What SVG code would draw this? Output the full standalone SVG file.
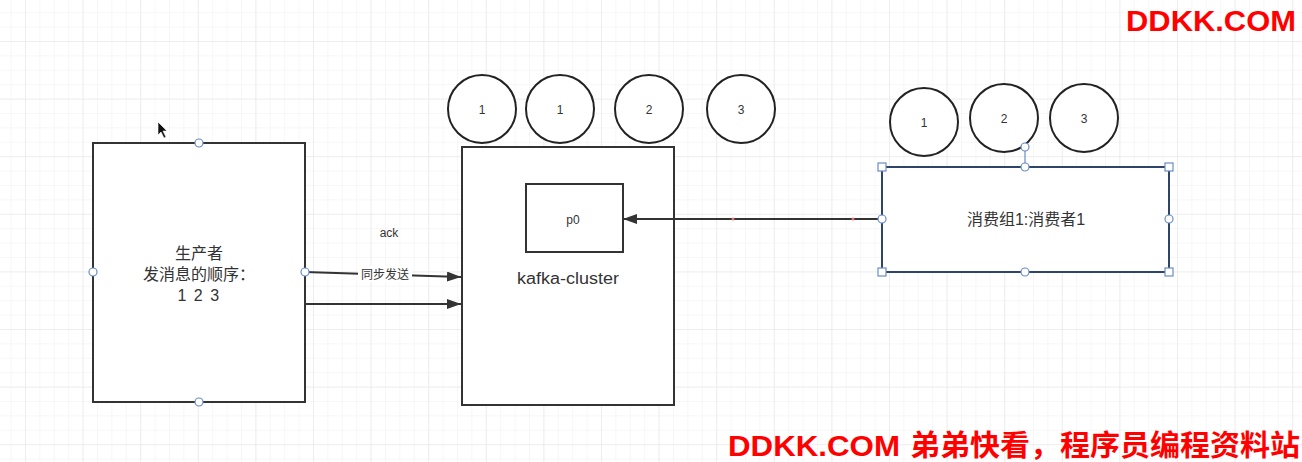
<svg xmlns="http://www.w3.org/2000/svg" width="1302" height="462" viewBox="0 0 1302 462">
  <defs>
    <pattern id="minor" x="25" y="41" width="14.4" height="14.4" patternUnits="userSpaceOnUse">
      <path d="M0 0H14.4M0 0V14.4" fill="none" stroke="#f0f0f0" stroke-width="1"/>
    </pattern>
    <pattern id="major" x="25" y="41" width="57.6" height="57.6" patternUnits="userSpaceOnUse">
      <path d="M0 0H57.6M0 0V57.6" fill="none" stroke="#e6e6e6" stroke-width="1.2"/>
    </pattern>
    <marker id="arr" viewBox="0 0 14 10" refX="14" refY="5" markerWidth="14" markerHeight="10" markerUnits="userSpaceOnUse" orient="auto">
      <path d="M0 0L14 5L0 10Z" fill="#333"/>
    </marker>
  </defs>
  <style>
    .box{fill:#fff;stroke:#333;stroke-width:2}
    .sel{fill:#fff;stroke:#2e4468;stroke-width:2}
    .circ{fill:#fff;stroke:#222;stroke-width:2}
    .h{fill:#fff;stroke:#6a8cc6;stroke-width:1.2}
    .t{font-family:"Liberation Sans","Noto Sans CJK SC",sans-serif;fill:#333;text-anchor:middle;dominant-baseline:central}
    .edge{fill:none;stroke:#333;stroke-width:2}
    .wm{font-family:"Liberation Sans","Noto Sans CJK SC",sans-serif;font-weight:bold;fill:#ff0000;font-size:29px}
  </style>
  <rect width="1302" height="462" fill="#fff"/>
  <rect width="1302" height="462" fill="url(#minor)"/>
  <rect width="1302" height="462" fill="url(#major)"/>

  <g id="producer">
    <rect class="box" x="93" y="143" width="212" height="259"/>
    <text class="t" x="199" y="253" font-size="16">生产者</text>
    <text class="t" x="199" y="274" font-size="16">发消息的顺序：</text>
    <text class="t" x="199" y="295" font-size="16" letter-spacing="1.5">1 2 3</text>
    <circle class="h" cx="199" cy="143" r="4"/>
    <circle class="h" cx="199" cy="402" r="4"/>
    <circle class="h" cx="93" cy="272" r="4"/>
  </g>

  <g id="kafka-cluster">
    <rect class="box" x="462" y="147" width="212" height="258"/>
    <text class="t" x="568" y="278" font-size="16" textLength="102" lengthAdjust="spacingAndGlyphs">kafka-cluster</text>
  </g>

  <g id="p0">
    <rect class="box" x="526" y="184" width="97" height="68"/>
    <text class="t" x="573" y="220" font-size="12">p0</text>
  </g>

  <g id="msg-circles-top">
    <ellipse class="circ" cx="482" cy="109" rx="34" ry="34"/>
    <text class="t" x="482" y="110" font-size="12">1</text>
    <ellipse class="circ" cx="560" cy="109" rx="34" ry="34"/>
    <text class="t" x="560" y="110" font-size="12">1</text>
    <ellipse class="circ" cx="649" cy="109" rx="34" ry="34"/>
    <text class="t" x="649" y="110" font-size="12">2</text>
    <ellipse class="circ" cx="741" cy="109" rx="34" ry="34"/>
    <text class="t" x="741" y="110" font-size="12">3</text>
  </g>

  <g id="msg-circles-consumer">
    <ellipse class="circ" cx="924" cy="122" rx="34" ry="34"/>
    <text class="t" x="924" y="123" font-size="12">1</text>
    <ellipse class="circ" cx="1004" cy="118" rx="34" ry="34"/>
    <text class="t" x="1004" y="119" font-size="12">2</text>
    <ellipse class="circ" cx="1084" cy="118" rx="34" ry="34"/>
    <text class="t" x="1084" y="119" font-size="12">3</text>
  </g>

  <g id="connectors">
    <line class="edge" x1="305" y1="272" x2="461" y2="277" marker-end="url(#arr)"/>
    <rect x="358" y="266" width="54" height="16" fill="#fff"/>
    <text class="t" x="385" y="275" font-size="12">同步发送</text>
    <line class="edge" x1="305" y1="304" x2="461" y2="304" marker-end="url(#arr)"/>
    <text class="t" x="389" y="233" font-size="12">ack</text>
    <line class="edge" x1="882" y1="219" x2="623" y2="219" marker-end="url(#arr)"/>
    <circle cx="733" cy="219" r="1.5" fill="#e57373"/>
    <circle cx="853" cy="219" r="1.5" fill="#e57373"/>
    <circle class="h" cx="305" cy="272" r="4"/>
  </g>

  <g id="consumer">
    <rect class="sel" x="882" y="167" width="287" height="105"/>
    <text class="t" x="1026" y="219" font-size="16">消费组1:消费者1</text>
    <line x1="1025" y1="147" x2="1025" y2="167" stroke="#6a8cc6" stroke-width="1.2"/>
    <circle class="h" cx="1025" cy="147" r="4"/>
    <circle class="h" cx="1025" cy="167" r="4"/>
    <circle class="h" cx="1025" cy="272" r="4"/>
    <circle class="h" cx="882" cy="219" r="4"/>
    <circle class="h" cx="1169" cy="219" r="4"/>
    <rect class="h" x="878" y="163" width="8" height="8"/>
    <rect class="h" x="1165" y="163" width="8" height="8"/>
    <rect class="h" x="878" y="268" width="8" height="8"/>
    <rect class="h" x="1165" y="268" width="8" height="8"/>
  </g>

  <path d="M158 122L158 135L161 132L164 138L166 137L163 131L167 131Z" fill="#111" stroke="#fff" stroke-width="0.6"/>

  <text class="wm" x="1126" y="31" textLength="170" lengthAdjust="spacingAndGlyphs">DDKK.COM</text>
  <text class="wm" x="728" y="456" textLength="172" lengthAdjust="spacingAndGlyphs">DDKK.COM</text>
  <text class="wm" x="910" y="456" textLength="390" lengthAdjust="spacingAndGlyphs">弟弟快看，程序员编程资料站</text>
</svg>
